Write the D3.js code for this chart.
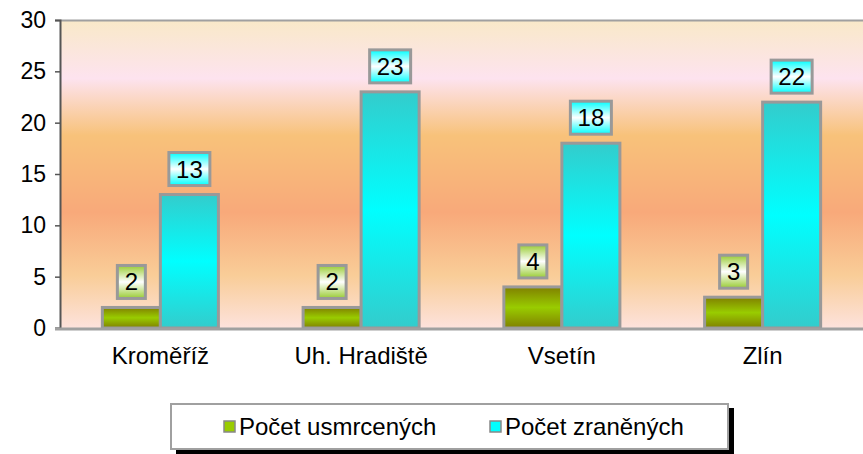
<!DOCTYPE html>
<html>
<head>
<meta charset="utf-8">
<script src="https://cdn.jsdelivr.net/npm/d3@7"></script>
<style>
  body { margin: 0; background: #fff; }
  svg { display: block; font-family: "Liberation Sans", Arial, sans-serif; }
  svg text { font-family: "Liberation Sans", Arial, sans-serif; fill: #000; }
</style>
</head>
<body>
<svg id="chart" width="863" height="454"></svg>
<script>
const categories = ['Kroměříž', 'Uh. Hradiště', 'Vsetín', 'Zlín'];
const seriesNames = ['Počet usmrcených', 'Počet zraněných'];
const killed = [2, 2, 4, 3];
const injured = [13, 23, 18, 22];
const yTicks = [0, 5, 10, 15, 20, 25, 30];

const svg = d3.select('#chart');
const width = +svg.attr('width');
const margin = { top: 20, right: 0, bottom: 126, left: 60 };
const plotBottom = 328;

const x = d3.scaleBand()
  .domain(categories)
  .range([margin.left, width - margin.right])
  .paddingInner(0.422)
  .paddingOuter(0.211);

const xSub = d3.scaleBand()
  .domain(seriesNames)
  .range([0, x.bandwidth()]);

const y = d3.scaleLinear()
  .domain([0, 30])
  .range([plotBottom, margin.top]);

const defs = svg.append('defs');

// plot background
const bg = defs.append('linearGradient').attr('id', 'bg')
  .attr('x1', 0).attr('y1', 0).attr('x2', 0).attr('y2', 1);
[[0, '#f9e9c8'], [0.19, '#fde3ef'], [0.375, '#f8c27a'], [0.625, '#f8a97a'], [0.83, '#f9cd98'], [1, '#fde2dc']]
  .forEach(([o, c]) => bg.append('stop').attr('offset', o).attr('stop-color', c));

function bandGrad(id, edge, mid) {
  const g = defs.append('linearGradient').attr('id', id)
    .attr('x1', 0).attr('y1', 0).attr('x2', 0).attr('y2', 1);
  g.append('stop').attr('offset', 0).attr('stop-color', edge);
  g.append('stop').attr('offset', 0.5).attr('stop-color', mid);
  g.append('stop').attr('offset', 1).attr('stop-color', edge);
}
bandGrad('barGreen', '#808000', '#99cc00');
bandGrad('barCyan', '#33cccc', '#00ffff');
bandGrad('lblGreen', '#99cc33', '#ffffff');
bandGrad('lblCyan', '#00ffff', '#ffffff');

svg.append('rect')
  .attr('x', margin.left)
  .attr('y', margin.top)
  .attr('width', width - margin.left)
  .attr('height', plotBottom - margin.top)
  .attr('fill', 'url(#bg)');

// top border
svg.append('line')
  .attr('x1', margin.left).attr('x2', width)
  .attr('y1', margin.top + 0.5).attr('y2', margin.top + 0.5)
  .attr('stroke', '#a0a0a0').attr('stroke-width', 2);

const series = [
  { name: seriesNames[0], values: killed, fill: 'url(#barGreen)', label: 'url(#lblGreen)' },
  { name: seriesNames[1], values: injured, fill: 'url(#barCyan)', label: 'url(#lblCyan)' }
];

series.forEach(s => {
  const g = svg.append('g');
  g.selectAll('rect')
    .data(categories)
    .join('rect')
    .attr('x', (c) => x(c) + xSub(s.name))
    .attr('y', (c, i) => y(s.values[i]))
    .attr('width', xSub.bandwidth())
    .attr('height', (c, i) => plotBottom - y(s.values[i]))
    .attr('fill', s.fill)
    .attr('stroke', '#999999')
    .attr('stroke-width', 3);
});

// data labels
series.forEach(s => {
  categories.forEach((c, i) => {
    const v = s.values[i];
    const cx = x(c) + xSub(s.name) + xSub.bandwidth() / 2;
    const bw = String(v).length > 1 ? 41 : 28;
    const bh = 33;
    const by = y(v) - 9 - bh;
    svg.append('rect')
      .attr('x', cx - bw / 2)
      .attr('y', by)
      .attr('width', bw)
      .attr('height', bh)
      .attr('fill', s.label)
      .attr('stroke', '#999999')
      .attr('stroke-width', 3);
    svg.append('text')
      .attr('x', cx)
      .attr('y', by + bh / 2 + 8.5)
      .attr('text-anchor', 'middle')
      .style('font-size', '24px')
      .text(v);
  });
});

// y axis
const yAxis = svg.append('g')
  .attr('transform', `translate(${margin.left},0)`)
  .call(d3.axisLeft(y).tickValues(yTicks).tickSize(5).tickPadding(9));
yAxis.select('.domain').attr('stroke', '#555').attr('stroke-width', 2);
yAxis.selectAll('.tick line').attr('stroke', '#555').attr('stroke-width', 1.5);
yAxis.selectAll('.tick text').style('font-size', '23px');

// x axis
const xAxis = svg.append('g')
  .attr('transform', `translate(0,${plotBottom})`)
  .call(d3.axisBottom(x).tickSize(0).tickPadding(19));
xAxis.select('.domain').remove();
xAxis.selectAll('.tick text').style('font-size', '24px');
svg.append('line')
  .attr('x1', margin.left - 5).attr('x2', width)
  .attr('y1', plotBottom + 1).attr('y2', plotBottom + 1)
  .attr('stroke', '#a0a0a0').attr('stroke-width', 3);

// legend
const lg = svg.append('g');
lg.append('rect')
  .attr('x', 176).attr('y', 408).attr('width', 558).attr('height', 46)
  .attr('fill', '#000');
lg.append('rect')
  .attr('x', 171).attr('y', 404).attr('width', 557).attr('height', 45)
  .attr('fill', '#fff').attr('stroke', '#a0a0a0').attr('stroke-width', 2);
const legendX = [224, 490];
series.forEach((s, i) => {
  lg.append('rect')
    .attr('x', legendX[i]).attr('y', 421).attr('width', 11).attr('height', 11)
    .attr('fill', i === 0 ? '#99cc00' : '#00ffff')
    .attr('stroke', '#888').attr('stroke-width', 1.5);
  lg.append('text')
    .attr('x', legendX[i] + 15).attr('y', 435)
    .style('font-size', '24px')
    .text(s.name);
});
</script>
</body>
</html>
